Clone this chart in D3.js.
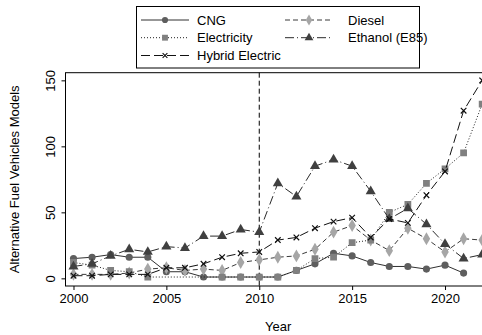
<!DOCTYPE html>
<html>
<head>
<meta charset="utf-8">
<script src="https://cdn.jsdelivr.net/npm/d3@7"></script>
<style>
  html, body { margin: 0; padding: 0; background: #fff; }
  svg { display: block; font-family: "Liberation Sans", Arial, Helvetica, sans-serif; }
</style>
</head>
<body>
<svg id="chart" width="482" height="335"></svg>
<script>
// Model counts per fuel type, 2000-2022 (null = no observation)
const years = d3.range(2000, 2023);
const cng         = [15, 16, 18, 16, 16, 5, 5, 1, 1, 1, 1, 1, 6, 11, 19, 17, 12, 9, 9, 7, 10, 4, null];
const diesel      = [3, 3, 3, 4, 7, 8, 6, 7, 6, 12, 14, 16, 17, 22, 35, 40, 29, 21, 38, 30, 20, 30, 29];
const electricity = [12, 10, 6, 5, 1, null, null, null, 1, 1, 1, 1, 6, 15, 16, 27, 29, 50, 56, 72, 83, 95, 132];
const ethanol     = [9, 11, 17, 22, 20, 24, 23, 32, 32, 37, 35, 72, 62, 85, 90, 85, 66, 45, 53, 41, 26, 15, 18];
const hybrid      = [2, 2, 3, 3, 3, 8, 8, 11, 16, 19, 20, 29, 31, 38, 43, 46, 31, 45, 42, 63, 81, 127, 150];

const xTicks = [2000, 2005, 2010, 2015, 2020];
const yTicks = [0, 50, 100, 150];
const markerYear = 2010;

const series = [
  { name: "CNG",             values: cng,         symbol: d3.symbolCircle,   size: 40, fill: "#5e5e5e", stroke: "#303030", dash: null },
  { name: "Diesel",          values: diesel,      symbol: d3.symbolDiamond,  size: 48, fill: "#a6a6a6", stroke: "#3a3a3a", dash: "5,3" },
  { name: "Electricity",     values: electricity, symbol: d3.symbolSquare,   size: 46, fill: "#808080", stroke: "#202020", dash: "1,2" },
  { name: "Ethanol (E85)",   values: ethanol,     symbol: d3.symbolTriangle, size: 44, fill: "#404040", stroke: "#2a2a2a", dash: "9,3,1,3" },
  { name: "Hybrid Electric", values: hybrid,      symbol: d3.symbolX,        size: 22, fill: "none",    stroke: "#111111", dash: "9,4" }
];

const svg = d3.select("#chart");
const plot = { left: 65.5, top: 72.7, right: 487, bottom: 286 };

const x = d3.scaleLinear().domain([1999.57, 2022.26]).range([plot.left, plot.right]);
const y = d3.scaleLinear().domain([-5.8, 155.8]).range([plot.bottom, plot.top]);

// plot frame
svg.append("rect")
  .attr("x", plot.left).attr("y", plot.top)
  .attr("width", plot.right - plot.left).attr("height", plot.bottom - plot.top)
  .attr("fill", "none").attr("stroke", "#000").attr("stroke-width", 1);

// x axis
const xAxis = svg.append("g").attr("transform", `translate(0,${plot.bottom})`)
  .call(d3.axisBottom(x).tickValues(xTicks).tickFormat(d3.format("d")).tickSize(4).tickPadding(4));
xAxis.select(".domain").remove();
xAxis.selectAll("text").attr("font-size", 13).attr("font-family", "Liberation Sans, Arial, sans-serif").attr("fill", "#000");
xAxis.selectAll("line").attr("stroke", "#000");

// y axis
const yAxis = svg.append("g").attr("transform", `translate(${plot.left},0)`)
  .call(d3.axisLeft(y).tickValues(yTicks).tickSize(4).tickFormat(d3.format("d")));
yAxis.select(".domain").remove();
yAxis.selectAll("line").attr("stroke", "#000");
yAxis.selectAll("text")
  .attr("font-size", 13).attr("font-family", "Liberation Sans, Arial, sans-serif").attr("fill", "#000")
  .attr("x", null).attr("dy", null)
  .attr("text-anchor", "middle")
  .attr("dominant-baseline", "central")
  .attr("transform", "translate(-15,0) rotate(-90)");

// axis titles
svg.append("text")
  .attr("x", (plot.left + plot.right) / 2 + 2).attr("y", 331)
  .attr("text-anchor", "middle").attr("font-size", 13).text("Year");
svg.append("text")
  .attr("transform", `translate(19,${(plot.top + plot.bottom) / 2}) rotate(-90)`)
  .attr("text-anchor", "middle").attr("font-size", 13).text("Alternative Fuel Vehicles Models");

// reference line
svg.append("line")
  .attr("x1", x(markerYear)).attr("x2", x(markerYear))
  .attr("y1", plot.top).attr("y2", plot.bottom)
  .attr("stroke", "#000").attr("stroke-width", 1).attr("stroke-dasharray", "5,3");

const clip = svg.append("clipPath").attr("id", "clip")
  .append("rect").attr("x", plot.left).attr("y", plot.top)
  .attr("width", plot.right - plot.left).attr("height", plot.bottom - plot.top);

const g = svg.append("g").attr("clip-path", "url(#clip)");
const line = d3.line().x(d => x(d.year)).y(d => y(d.value));

series.forEach(s => {
  const pts = years.map((yr, i) => ({ year: yr, value: s.values[i] })).filter(d => d.value !== null);
  g.append("path").datum(pts)
    .attr("d", line)
    .attr("fill", "none").attr("stroke", s.stroke).attr("stroke-width", 1)
    .attr("stroke-dasharray", s.dash);
  g.selectAll(null).data(pts).enter().append("path")
    .attr("transform", d => `translate(${x(d.year)},${y(d.value)})`)
    .attr("d", d3.symbol().type(s.symbol).size(s.size))
    .attr("fill", s.fill)
    .attr("stroke", s.symbol === d3.symbolX ? s.stroke : "none")
    .attr("stroke-width", s.symbol === d3.symbolX ? 1.2 : 0);
});

// legend
const legend = svg.append("g");
legend.append("rect")
  .attr("x", 136.5).attr("y", 6.5).attr("width", 283).attr("height", 61.5)
  .attr("fill", "#fff").attr("stroke", "#000").attr("stroke-width", 1);
const legendPos = [
  { lx: 141, tx: 197, y: 20 },
  { lx: 285, tx: 348, y: 20 },
  { lx: 141, tx: 197, y: 37.7 },
  { lx: 285, tx: 348, y: 37.7 },
  { lx: 141, tx: 197, y: 55.5 }
];
series.forEach((s, i) => {
  const p = legendPos[i];
  const item = legend.append("g");
  item.append("line")
    .attr("x1", p.lx).attr("x2", p.lx + 48).attr("y1", p.y).attr("y2", p.y)
    .attr("stroke", s.stroke).attr("stroke-width", 1).attr("stroke-dasharray", s.dash);
  item.append("path")
    .attr("transform", `translate(${p.lx + 24},${p.y})`)
    .attr("d", d3.symbol().type(s.symbol).size(s.size * 0.75))
    .attr("fill", s.fill)
    .attr("stroke", s.symbol === d3.symbolX ? s.stroke : "none")
    .attr("stroke-width", s.symbol === d3.symbolX ? 1.1 : 0);
  item.append("text")
    .attr("x", p.tx).attr("y", p.y).attr("dominant-baseline", "central")
    .attr("font-size", 13).text(s.name);
});
</script>
</body>
</html>
